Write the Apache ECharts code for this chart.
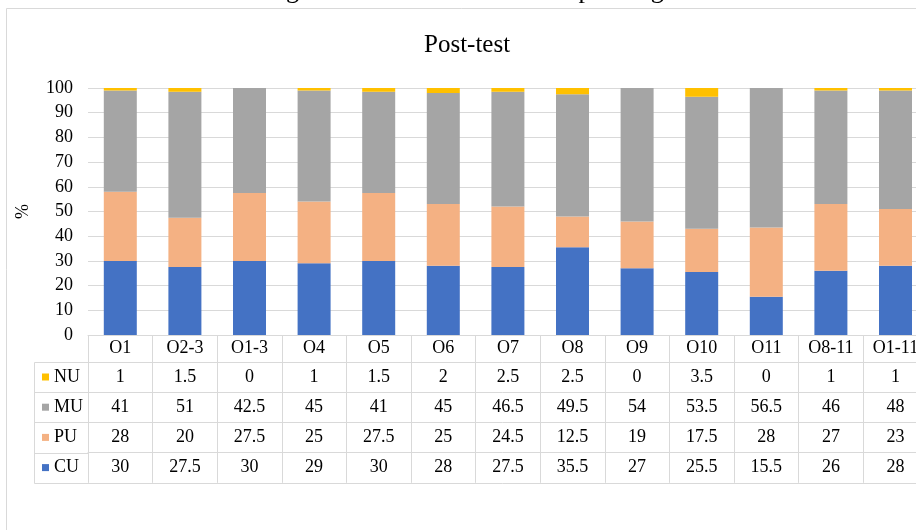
<!DOCTYPE html>
<html>
<head>
<meta charset="utf-8">
<script src="https://cdn.jsdelivr.net/npm/echarts@6/dist/echarts.min.js"></script>
<style>
html,body{margin:0;padding:0;background:#fff;}
#chart{width:916px;height:530px;}
</style>
</head>
<body>
<div id="chart"></div>
<script>
// ---- data ----
var categories = ['O1','O2-3','O1-3','O4','O5','O6','O7','O8','O9','O10','O11','O8-11','O1-11'];
var seriesNames = ['CU','PU','MU','NU'];
var CU = [30,27.5,30,29,30,28,27.5,35.5,27,25.5,15.5,26,28];
var PU = [28,20,27.5,25,27.5,25,24.5,12.5,19,17.5,28,27,23];
var MU = [41,51,42.5,45,41,45,46.5,49.5,54,53.5,56.5,46,48];
var NU = [1,1.5,0,1,1.5,2,2.5,2.5,0,3.5,0,1,1];
var yMin = 0, yMax = 100, yStep = 10;
var titleText = 'Post-test';
var captionText = 'Figure 6: Pre-test results of explaining';
var yName = '%';

// ---- styling / layout ----
var FONT = "'Times New Roman','Liberation Serif',serif";
var colors = {CU:'#4472C4', PU:'#F4B183', MU:'#A5A5A5', NU:'#FFC000'};
var lineCol = '#D9D9D9';
var gridLeft = 88, gridTop = 88, gridH = 247, colW = 64.6;
var plotBottom = gridTop + gridH;
var headerH = 27, rowH = 30.2;
var tableRows = [['NU', NU], ['MU', MU], ['PU', PU], ['CU', CU]];
var valuesByName = {CU:CU, PU:PU, MU:MU, NU:NU};

var xAxes = [{
  type:'category', data:categories, gridIndex:0, position:'bottom',
  axisLine:{show:true, lineStyle:{color:lineCol, width:1}},
  axisTick:{show:true, interval:0, length:headerH, alignWithLabel:false, lineStyle:{color:lineCol, width:1}},
  axisLabel:{interval:0, margin:4.5, color:'#000', fontSize:18, fontFamily:FONT, hideOverlap:false},
  splitLine:{show:false}
}];
tableRows.forEach(function(r, i){
  var vals = r[1];
  xAxes.push({
    type:'category', data:categories, gridIndex:0, position:'bottom',
    offset: headerH + rowH * i,
    axisLine:{show:true, lineStyle:{color:lineCol, width:1}},
    axisTick:{show:true, interval:0, length:rowH, alignWithLabel:false, lineStyle:{color:lineCol, width:1}},
    axisLabel:{interval:0, margin:6, color:'#000', fontSize:18, fontFamily:FONT, hideOverlap:false,
      formatter:function(v, idx){ return String(vals[idx]); }},
    splitLine:{show:false}
  });
});
xAxes.push({
  type:'category', data:categories, gridIndex:0, position:'bottom',
  offset: headerH + rowH * tableRows.length,
  axisLine:{show:true, lineStyle:{color:lineCol, width:1}},
  axisTick:{show:false}, axisLabel:{show:false}, splitLine:{show:false}
});

var series = seriesNames.map(function(n){
  return {
    name:n, type:'bar', stack:'total', xAxisIndex:0, yAxisIndex:0,
    barWidth:33, data:valuesByName[n],
    itemStyle:{color:colors[n]}, emphasis:{disabled:true}
  };
});

// legend column borders (table decoration)
var legLeft = 34.5, legRight = gridLeft;
var tableTop = plotBottom + headerH;
var tableBottom = plotBottom + headerH + rowH * tableRows.length;
var graphics = [
  {type:'rect', shape:{x:6.5, y:8.5, width:1000, height:600}, style:{fill:'none', stroke:lineCol, lineWidth:1}, silent:true},
  {type:'text', x:464, y:-9, style:{text:captionText, fontSize:26, fontFamily:FONT, fill:'#000', align:'center', verticalAlign:'middle'}, silent:true},
  {type:'line', shape:{x1:legLeft, y1:Math.round(tableTop)+0.5, x2:legLeft, y2:Math.round(tableBottom)+0.5}, style:{stroke:lineCol, lineWidth:1}, silent:true}
];
for (var k = 0; k <= tableRows.length; k++) {
  var yy = Math.round(tableTop + rowH * k) + 0.5;
  graphics.push({type:'line', shape:{x1:legLeft, y1:yy, x2:legRight, y2:yy}, style:{stroke:lineCol, lineWidth:1}, silent:true});
}

var option = {
  animation:false,
  backgroundColor:'#fff',
  title:{text:titleText, left:419, top:28, textStyle:{fontSize:25, fontWeight:'normal', color:'#000', fontFamily:FONT}},
  legend:{
    data:['NU','MU','PU','CU'], orient:'vertical', left:42, top:tableTop + 6, padding:0,
    itemWidth:7, itemHeight:7, itemGap:rowH - 18, icon:'rect', selectedMode:false,
    textStyle:{fontSize:18, color:'#000', fontFamily:FONT}
  },
  grid:{left:gridLeft, top:gridTop, width:colW * categories.length, height:gridH, containLabel:false, outerBoundsMode:'none'},
  xAxis:xAxes,
  yAxis:[{
    type:'value', min:yMin, max:yMax, interval:yStep,
    name:yName, nameLocation:'middle', nameGap:56, nameRotate:90,
    nameTextStyle:{fontSize:18, color:'#000', fontFamily:FONT},
    axisLine:{show:false}, axisTick:{show:false},
    axisLabel:{margin:15, color:'#000', fontSize:18, fontFamily:FONT},
    splitLine:{show:true, lineStyle:{color:lineCol, width:1}}
  }],
  series:series,
  graphic:graphics
};
var chart = echarts.init(document.getElementById('chart'), null, {renderer:'canvas'});
chart.setOption(option);
</script>
</body>
</html>
